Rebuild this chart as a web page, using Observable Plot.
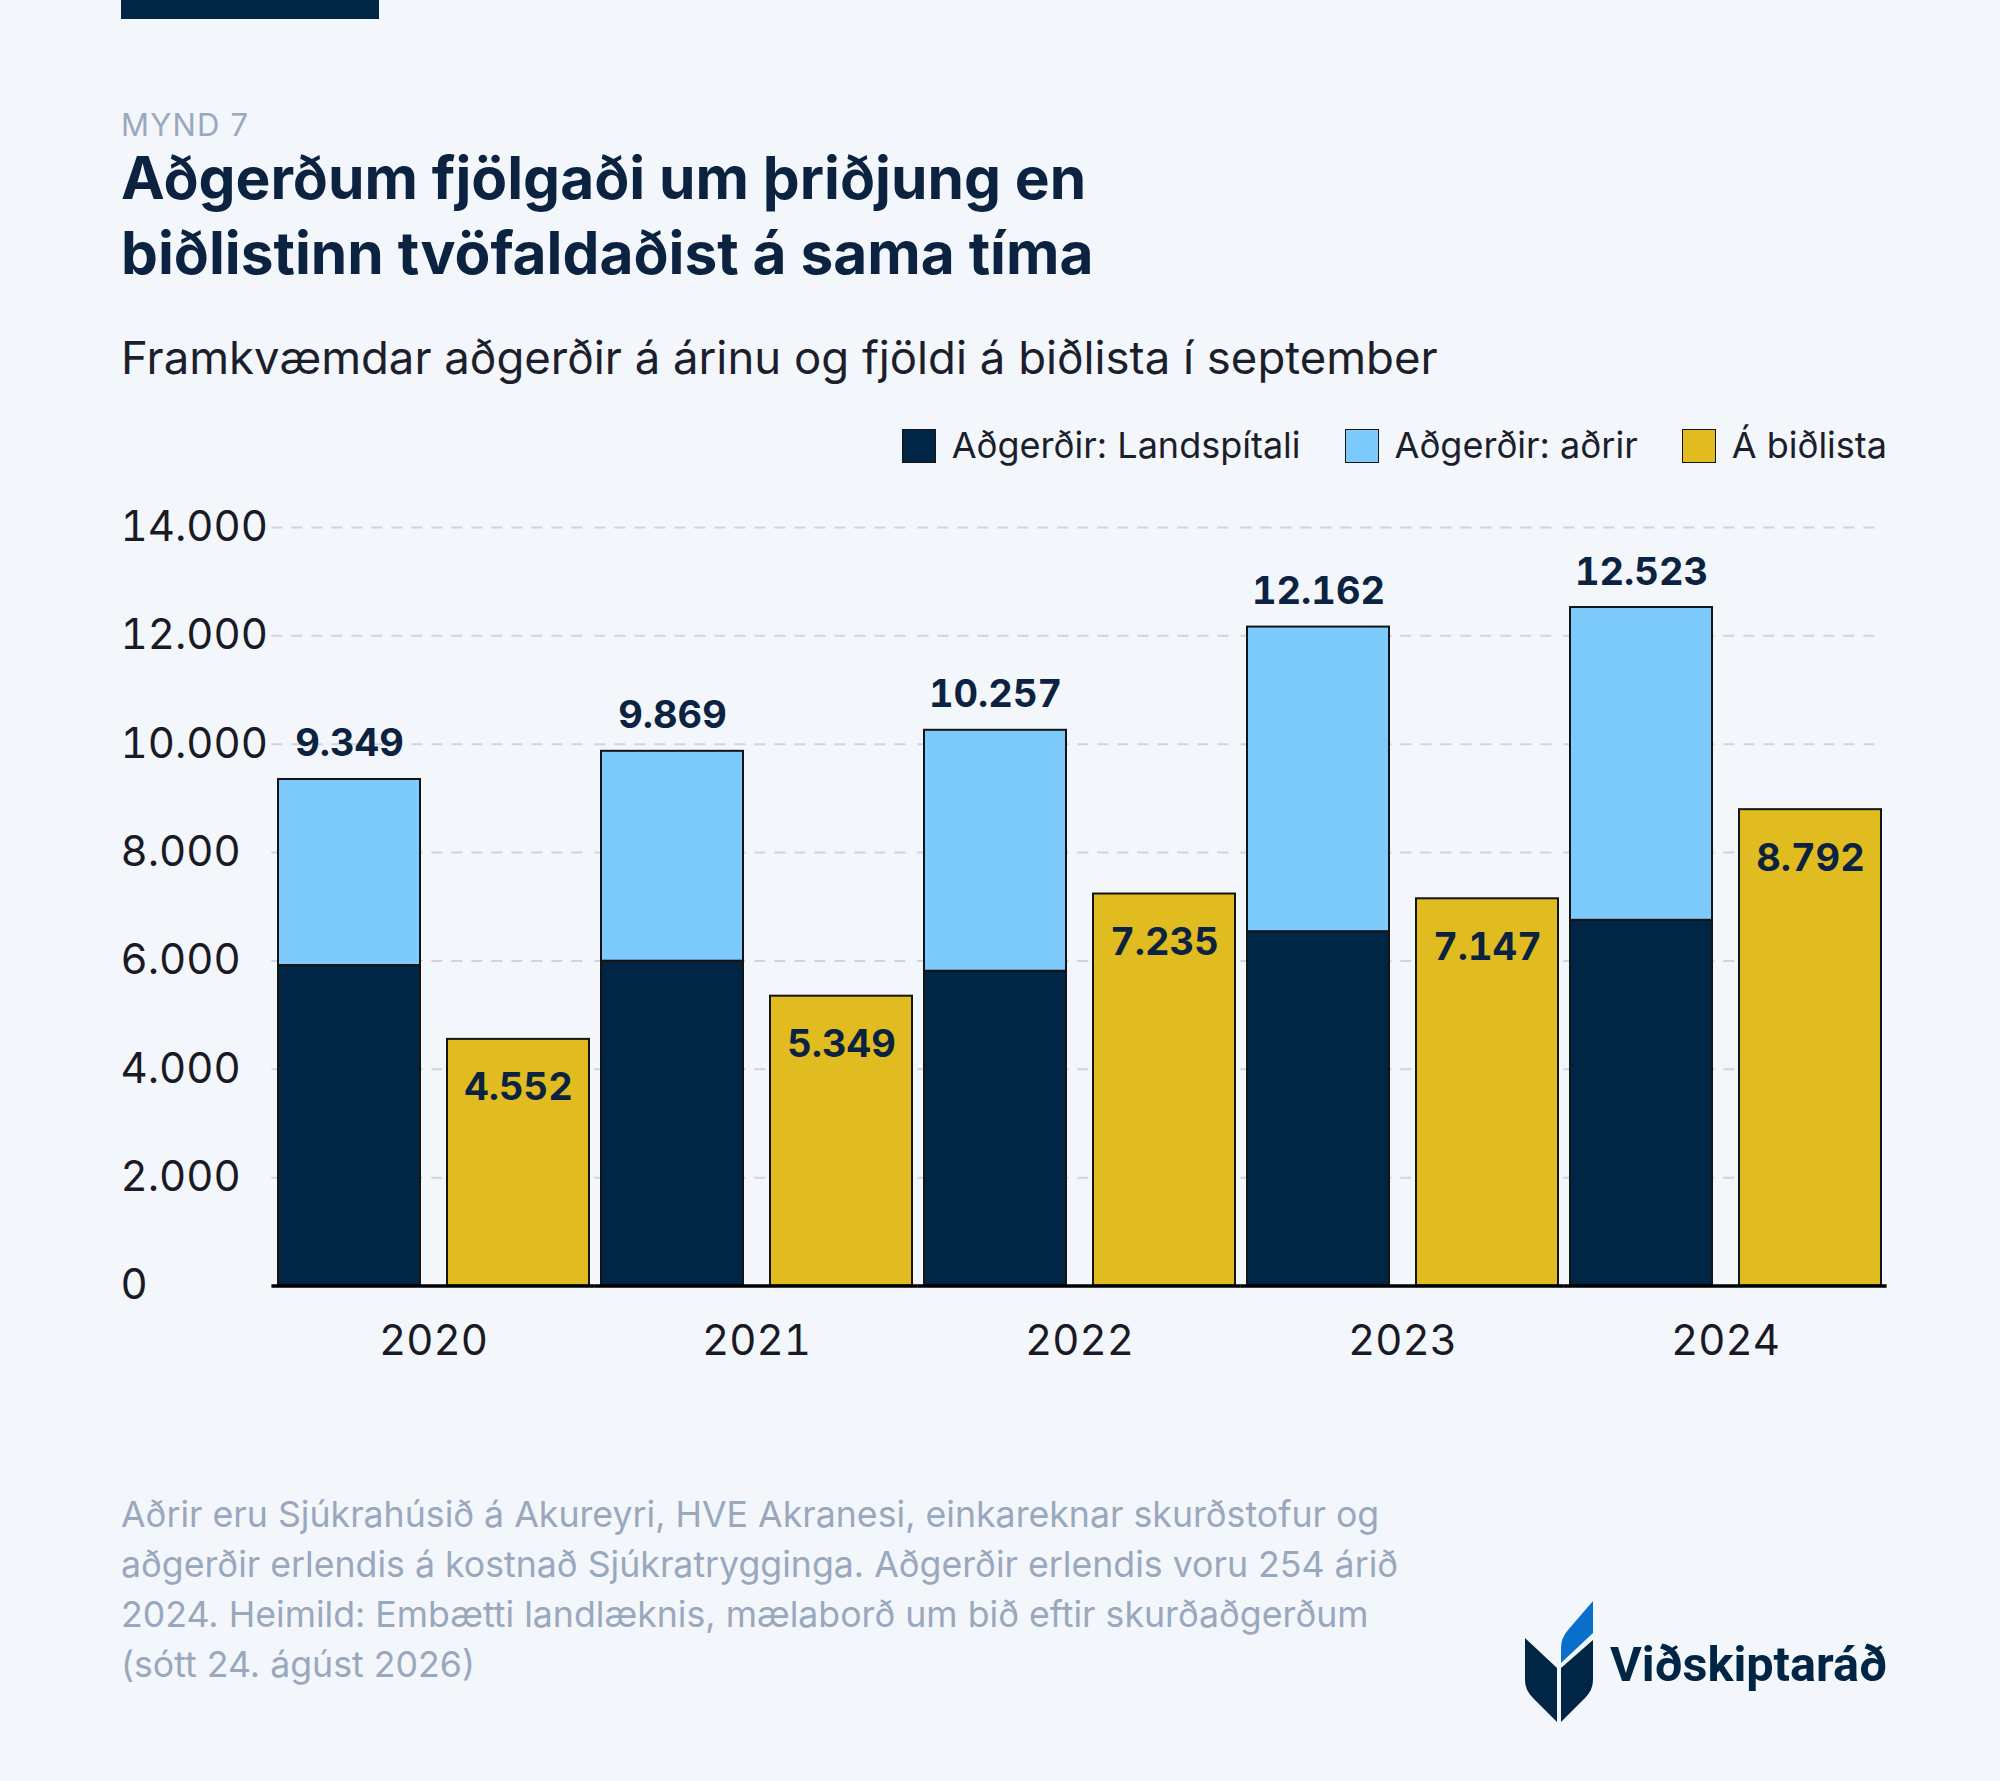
<!DOCTYPE html>
<html>
<head>
<meta charset="utf-8">
<script src="https://cdn.jsdelivr.net/npm/d3@7"></script>
<script src="https://cdn.jsdelivr.net/npm/@observablehq/plot@0.6"></script>
<style>
  html, body { margin: 0; padding: 0; background: #f3f6fb; }
  #page { position: relative; width: 2000px; height: 1781px; background: #f3f6fb; font-family: Inter, "Noto Sans", sans-serif; overflow: hidden; }
  .abs { position: absolute; white-space: nowrap; }
  #topbar { left: 121px; top: 0; width: 258px; height: 19px; background: #012545; }
  #kicker { left: 121px; top: 109px; font-size: 31px; line-height: 31px; color: #9aa9be; letter-spacing: 1.2px; }
  #title { left: 121px; top: 140.2px; font-size: 58.6px; line-height: 75px; font-weight: 700; color: #0b2341; }
  #subtitle { left: 121px; top: 334.7px; font-size: 45.5px; line-height: 45.5px; color: #1c1f2b; }
  #legend { right: 113px; top: 428px; height: 35px; display: flex; gap: 44px; font-size: 36px; line-height: 35px; color: #1c1f2b; }
  .item { display: flex; align-items: center; gap: 16px; }
  .sw { width: 32px; height: 32px; border: 1.5px solid #141414; }
  #chart { left: 0; top: 480px; }
  #chart svg { font-variant-numeric: tabular-nums; }
  #footer { left: 121px; top: 1489px; font-size: 35.7px; line-height: 50px; color: #99a8bd; }
  #logo { left: 1520px; top: 1595px; }
  #logotext { right: 113px; top: 1641px; font-family: Roboto, sans-serif; font-weight: 700; font-size: 48.6px; line-height: 48.6px; color: #012545; }
</style>
</head>
<body>
<div id="page">
  <div id="topbar" class="abs"></div>
  <div id="kicker" class="abs">MYND 7</div>
  <div id="title" class="abs">Aðgerðum fjölgaði um þriðjung en<br>biðlistinn tvöfaldaðist á sama tíma</div>
  <div id="subtitle" class="abs">Framkvæmdar aðgerðir á árinu og fjöldi á biðlista í september</div>
  <div id="legend" class="abs"></div>
  <div id="chart" class="abs"></div>
  <div id="footer" class="abs">Aðrir eru Sjúkrahúsið á Akureyri, HVE Akranesi, einkareknar skurðstofur og<br>aðgerðir erlendis á kostnað Sjúkratrygginga. Aðgerðir erlendis voru 254 árið<br>2024. Heimild: Embætti landlæknis, mælaborð um bið eftir skurðaðgerðum<br>(sótt 24. ágúst 2026)</div>
  <svg id="logo" class="abs" width="80" height="130" viewBox="0 0 80 130">
    <path d="M5,43 L37,73 L37,127 L13,103 Q5,95 5,85 Z" fill="#012545"/>
    <path d="M73,45 L41,73 L41,127 L65,103 Q73,95 73,85 Z" fill="#012545"/>
    <path d="M41,68 L41,53 Q41,43 48,35 L73,6 L73,38 Z" fill="#0a6fcb"/>
  </svg>
  <div id="logotext" class="abs">Viðskiptaráð</div>
</div>
<script>
// ---- data ----
const years = ["2020", "2021", "2022", "2023", "2024"];
const landspitali = [5915, 5995, 5810, 6540, 6750];
const adrir = [3434, 3874, 4447, 5622, 5773];
const bidlisti = [4552, 5349, 7235, 7147, 8792];
const totals = [9349, 9869, 10257, 12162, 12523];
const seriesNames = ["Aðgerðir: Landspítali", "Aðgerðir: aðrir", "Á biðlista"];
const seriesColors = ["#012545", "#7dcbfd", "#e1bc20"];
const groups = ["ops", "wait"];
const yTicks = [0, 2000, 4000, 6000, 8000, 10000, 12000, 14000];

const fmt = d3.formatLocale({decimal: ",", thousands: ".", grouping: [3], currency: ["", " kr."]}).format(",d");

const rows = years.flatMap((y, i) => [
  {year: y, group: "ops", series: seriesNames[0], value: landspitali[i]},
  {year: y, group: "ops", series: seriesNames[1], value: adrir[i]},
  {year: y, group: "wait", series: seriesNames[2], value: bidlisti[i]}
]);
const totalRows = years.map((y, i) => ({year: y, group: "ops", value: totals[i]}));
const waitRows = years.map((y, i) => ({year: y, group: "wait", value: bidlisti[i]}));

// legend
const legend = d3.select("#legend");
seriesNames.forEach((name, i) => {
  const it = legend.append("div").attr("class", "item");
  it.append("div").attr("class", "sw").style("background", seriesColors[i]);
  it.append("span").text(name);
});

const chart = Plot.plot({
  width: 2000,
  height: 900,
  marginTop: 47,
  marginBottom: 94.5,
  marginLeft: 271,
  marginRight: 113,
  style: {background: "transparent", fontFamily: "Inter, 'Noto Sans', sans-serif", color: "#1a1a26", overflow: "visible"},
  fx: {domain: years, paddingInner: 0.034, paddingOuter: 0.017, label: null},
  x: {domain: groups, paddingInner: 0.16, paddingOuter: 0, axis: null},
  y: {domain: [0, 14000], label: null},
  color: {domain: seriesNames, range: seriesColors},
  marks: [
    Plot.ruleY(yTicks.filter(d => d > 0), {stroke: "#cdd5e1", strokeWidth: 2, strokeDasharray: "11,9", insetLeft: -5.6, insetRight: -1}),
    Plot.barY(rows, {fx: "year", x: "group", y: "value", fill: "series", stroke: "#141414", strokeWidth: 2}),
    Plot.ruleY([0], {stroke: "#000", strokeWidth: 3.5, insetLeft: -5.6, insetRight: -5.6}),
    Plot.text(totalRows, {fx: "year", x: "group", y: "value", text: d => fmt(d.value), lineAnchor: "bottom", dy: -23, fontSize: 38, fontWeight: 700, fill: "#0b2341"}),
    Plot.text(waitRows, {fx: "year", x: "group", y: "value", text: d => fmt(d.value), lineAnchor: "bottom", dy: 61, fontSize: 38, fontWeight: 700, fill: "#0b2341"}),
    Plot.axisY({ticks: yTicks, tickSize: 0, tickPadding: 157, textAnchor: "start", tickFormat: fmt, fontSize: 42, fill: "#1a1a26", label: null}),
    Plot.axisFx({anchor: "bottom", tickSize: 0, tickPadding: 39, fontSize: 42, fill: "#1a1a26", label: null})
  ]
});
document.getElementById("chart").appendChild(chart);
</script>
</body>
</html>
